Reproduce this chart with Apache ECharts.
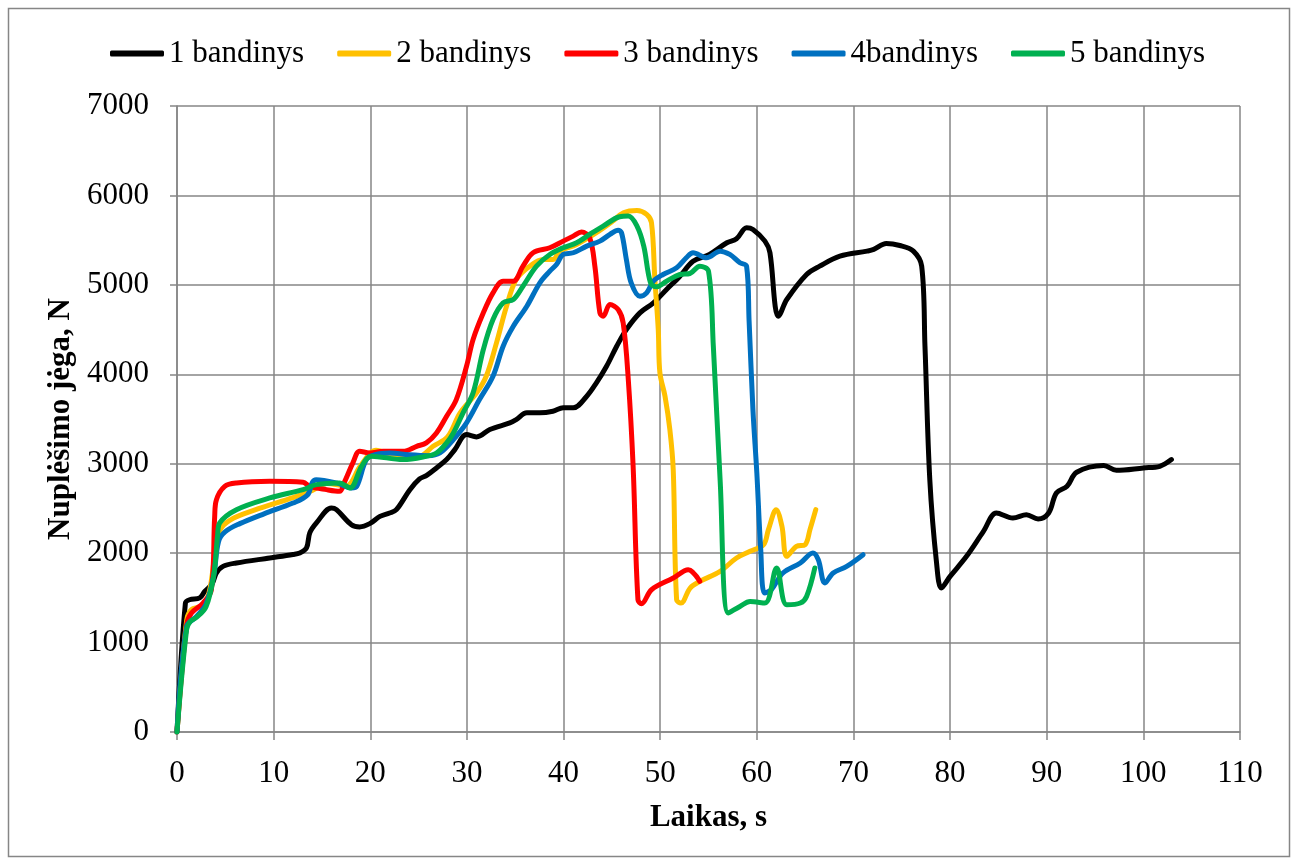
<!DOCTYPE html>
<html>
<head>
<meta charset="utf-8">
<script src="https://cdn.jsdelivr.net/npm/echarts@6/dist/echarts.min.js"></script>
<style>
  html, body { margin: 0; padding: 0; background: #ffffff; }
  #chart { width: 1299px; height: 859px; }
</style>
</head>
<body>
<div id="chart"></div>
<script>
// Tear-off force (N) over time (s) for five specimens
const seriesNames = ['1 bandinys', '2 bandinys', '3 bandinys', '4bandinys', '5 bandinys'];
const seriesColors = ['#000000', '#FFC000', '#FF0000', '#0070C0', '#00B050'];

const xTicks = [0, 10, 20, 30, 40, 50, 60, 70, 80, 90, 100, 110];
const yTicks = [0, 1000, 2000, 3000, 4000, 5000, 6000, 7000];

const time1 = [0, 0.87, 1.3, 2.35, 2.87, 3.6, 4.08, 4.76, 6.15, 9.6, 12.0, 12.7, 13.4, 13.74, 14.43, 15.98, 16.5, 18.05, 18.9, 19.95, 21, 22, 22.7, 24.1, 25.1, 25.8, 26.85, 27.9, 28.75, 29.96, 31, 32.37, 34.44, 35.1, 36.2, 37.55, 38.9, 39.96, 41, 42.4, 43.4, 44.45, 45.5, 46.5, 47.9, 49.3, 50.66, 52.04, 53.4, 55.1, 56.9, 57.9, 58.94, 59.6, 60.84, 61.36, 61.9, 62.2, 63.1, 65.15, 66.5, 68.6, 71.4, 72.1, 73.4, 74.8, 76.2, 77.06, 77.4, 77.9, 78.6, 79.1, 80.0, 81.7, 83.45, 84.8, 86.5, 87.9, 89.1, 90.2, 91.0, 92.1, 93.1, 95.9, 97.2, 100.0, 101.7, 102.9];
const force1 = [0, 1442, 1479, 1500, 1572, 1650, 1778, 1852, 1890, 1946, 1985, 2002, 2058, 2226, 2338, 2505, 2486, 2318, 2293, 2330, 2411, 2449, 2486, 2710, 2830, 2867, 2953, 3046, 3158, 3326, 3300, 3382, 3457, 3494, 3569, 3569, 3587, 3625, 3625, 3755, 3904, 4090, 4314, 4500, 4687, 4799, 4948, 5097, 5265, 5340, 5471, 5515, 5639, 5620, 5489, 5359, 4761, 4650, 4836, 5116, 5209, 5321, 5377, 5396, 5463, 5440, 5377, 5209, 4314, 2822, 1890, 1610, 1740, 1964, 2243, 2449, 2393, 2430, 2382, 2449, 2673, 2747, 2904, 2979, 2926, 2953, 2971, 3046];

const time2 = [0, 1.0, 1.5, 2.5, 3.3, 4.0, 4.4, 5.5, 8, 12, 14.0, 15.5, 17.5, 19.0, 20.6, 22.5, 25, 26.5, 28, 29.3, 31, 32.0, 33.06, 34.1, 35.1, 36.5, 37.9, 38.9, 39.6, 41.35, 43.4, 45.1, 46.2, 47.6, 48.6, 49.1, 49.45, 49.8, 49.97, 50.5, 51.0, 51.35, 51.7, 52.15, 53.1, 54.1, 56.2, 57.9, 59.3, 60.7, 61.2, 62.0, 62.6, 63.1, 64.1, 65.0, 65.5, 66.1];
const force2 = [0, 1250, 1370, 1410, 1550, 2050, 2250, 2370, 2480, 2620, 2700, 2780, 2750, 2980, 3150, 3090, 3080, 3195, 3300, 3569, 3792, 3978, 4351, 4761, 5060, 5209, 5284, 5284, 5377, 5452, 5583, 5713, 5807, 5832, 5788, 5695, 5060, 4500, 4016, 3755, 3382, 2934, 1479, 1442, 1610, 1684, 1796, 1946, 2020, 2095, 2263, 2486, 2300, 1964, 2076, 2095, 2263, 2486];

const time3 = [0, 1.0, 1.5, 2.7, 3.56, 3.9, 4.08, 4.94, 6.15, 9.6, 13.05, 13.74, 15.47, 16.8, 17.36, 18.2, 18.9, 19.95, 21.3, 23.4, 24.8, 25.8, 26.85, 27.9, 28.9, 29.96, 30.64, 31.7, 32.7, 33.75, 34.8, 35.8, 36.85, 38.58, 39.96, 41.0, 41.86, 42.7, 43.24, 43.76, 44.1, 44.8, 45.65, 46.17, 46.7, 47.2, 47.7, 48.07, 49.1, 51.35, 52.9, 54.1];
const force3 = [0, 1200, 1330, 1442, 1591, 2411, 2598, 2747, 2785, 2803, 2792, 2747, 2710, 2691, 2803, 3009, 3139, 3120, 3139, 3139, 3195, 3233, 3344, 3531, 3717, 4090, 4389, 4687, 4911, 5041, 5041, 5209, 5359, 5415, 5489, 5545, 5590, 5527, 5209, 4687, 4650, 4780, 4724, 4575, 3941, 2971, 1479, 1435, 1591, 1722, 1815, 1684];

const time4 = [0, 1.0, 2.0, 3.0, 3.8, 4.3, 5.0, 6.5, 9, 12, 13.5, 14.0, 14.4, 16.5, 18.05, 18.6, 19.6, 20.5, 22, 24, 26, 27.2, 28.6, 29.96, 31.3, 32.7, 33.75, 34.8, 36.2, 37.55, 38.58, 39.27, 39.96, 41.0, 42.4, 43.76, 44.8, 45.65, 46.0, 46.5, 47.0, 47.9, 48.6, 49.3, 50.3, 51.7, 52.7, 53.4, 54.8, 56.2, 57.2, 58.25, 58.94, 59.2, 59.6, 60.0, 60.4, 60.8, 61.5, 62.7, 64.5, 65.8, 66.36, 67.05, 67.9, 69.3, 71.0];
const force4 = [0, 1180, 1290, 1430, 1750, 2130, 2240, 2330, 2440, 2560, 2650, 2790, 2822, 2785, 2729, 2747, 3046, 3102, 3120, 3100, 3090, 3120, 3270, 3457, 3717, 3978, 4314, 4537, 4761, 5023, 5153, 5228, 5340, 5359, 5433, 5489, 5564, 5612, 5583, 5284, 5023, 4873, 4911, 5041, 5116, 5191, 5303, 5359, 5303, 5377, 5340, 5247, 5209, 4600, 3600, 2900, 2050, 1554, 1591, 1778, 1890, 2002, 1927, 1666, 1778, 1852, 1983];

const time5 = [0, 1.0, 1.4, 2.0, 3.0, 3.8, 4.2, 4.42, 6.15, 9.6, 13.05, 14.43, 16.8, 17.9, 19.1, 20.1, 23.4, 25.8, 26.85, 27.9, 28.6, 29.6, 30.64, 31.7, 32.7, 33.75, 34.8, 35.8, 37.2, 38.58, 39.96, 41.35, 42.7, 44.1, 45.8, 46.7, 47.6, 48.3, 49.0, 49.6, 50.66, 52.04, 53.07, 54.1, 55.0, 55.5, 56.2, 57.05, 58.25, 59.3, 60.84, 62.05, 63.1, 64.5, 65.15, 66.0];
const force5 = [0, 1150, 1240, 1280, 1400, 1750, 2200, 2338, 2486, 2617, 2710, 2766, 2785, 2729, 2971, 3083, 3046, 3083, 3120, 3233, 3344, 3569, 3792, 4277, 4612, 4799, 4836, 4985, 5209, 5340, 5415, 5471, 5564, 5657, 5762, 5769, 5657, 5433, 5023, 4978, 5041, 5116, 5127, 5209, 5153, 4314, 2822, 1330, 1404, 1460, 1442, 1834, 1423, 1442, 1516, 1834];

const times = [time1, time2, time3, time4, time5];
const forces = [force1, force2, force3, force4, force5];

const FONT = '"Liberation Serif", "Times New Roman", serif';
const GRID_COLOR = '#868686';

const chart = echarts.init(document.getElementById('chart'), null, { renderer: 'canvas' });

const series = seriesNames.map((name, i) => ({
  name: name,
  type: 'line',
  data: times[i].map((t, k) => [t, forces[i][k]]),
  smooth: 0.35,
  showSymbol: false,
  symbol: 'none',
  lineStyle: { color: seriesColors[i], width: 5, cap: 'round', join: 'round' },
  itemStyle: { color: seriesColors[i] },
  emphasis: { disabled: true },
  z: 2 + i
}));

chart.setOption({
  backgroundColor: '#ffffff',
  animation: false,
  graphic: [{
    type: 'rect',
    shape: { x: 8.5, y: 8.5, width: 1281, height: 848 },
    style: { fill: 'none', stroke: GRID_COLOR, lineWidth: 1.5 },
    silent: true,
    z: -1
  }],
  legend: {
    data: seriesNames.map((n, i) => ({ name: n, icon: 'roundRect', itemStyle: { color: seriesColors[i] } })),
    left: 105,
    top: 33,
    itemWidth: 54,
    itemHeight: 6,
    itemGap: 33,
    textStyle: { fontFamily: FONT, fontSize: 31, color: '#000000' }
  },
  grid: { left: 177, right: 59, top: 106, bottom: 127, containLabel: false },
  xAxis: {
    type: 'value',
    min: xTicks[0],
    max: xTicks[xTicks.length - 1],
    interval: xTicks[1] - xTicks[0],
    name: 'Laikas, s',
    nameLocation: 'middle',
    nameGap: 70,
    nameTextStyle: { fontFamily: FONT, fontSize: 31, fontWeight: 'bold', color: '#000000' },
    axisLine: { show: true, onZero: false, lineStyle: { color: GRID_COLOR, width: 1.5 } },
    axisTick: { show: true, length: 8, lineStyle: { color: GRID_COLOR, width: 1.5 } },
    axisLabel: { fontFamily: FONT, fontSize: 31, color: '#000000', margin: 26, formatter: v => String(v) },
    splitLine: { show: true, lineStyle: { color: GRID_COLOR, width: 1.5 } }
  },
  yAxis: {
    type: 'value',
    min: yTicks[0],
    max: yTicks[yTicks.length - 1],
    interval: yTicks[1] - yTicks[0],
    name: 'Nuplėšimo jėga, N',
    nameLocation: 'middle',
    nameGap: 90,
    nameTextStyle: { fontFamily: FONT, fontSize: 31, fontWeight: 'bold', color: '#000000' },
    axisLine: { show: true, lineStyle: { color: GRID_COLOR, width: 1.5 } },
    axisTick: { show: true, length: 7, lineStyle: { color: GRID_COLOR, width: 1.5 } },
    axisLabel: { fontFamily: FONT, fontSize: 31, color: '#000000', margin: 28, formatter: v => String(v) },
    splitLine: { show: true, lineStyle: { color: GRID_COLOR, width: 1.5 } }
  },
  series: series
});
</script>
</body>
</html>
